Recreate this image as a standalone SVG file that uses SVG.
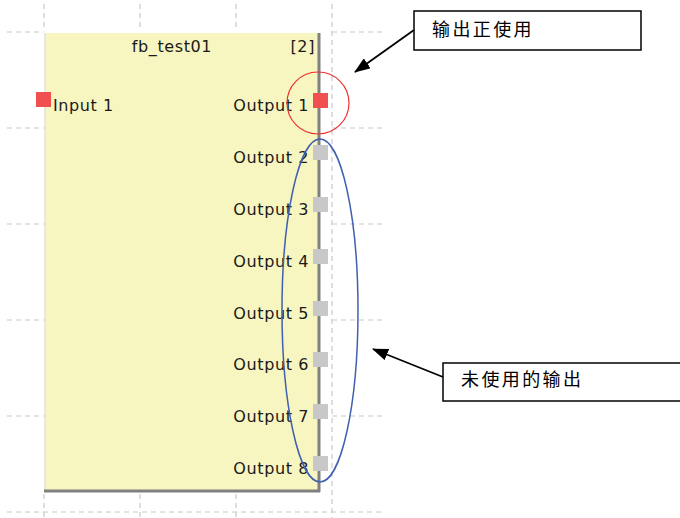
<svg xmlns="http://www.w3.org/2000/svg" width="680" height="518" viewBox="0 0 680 518">
<style>
.grid{stroke:#c8c8c8;stroke-width:1.2;stroke-dasharray:5 4;fill:none}
.lbl{font-family:"DejaVu Sans","Liberation Sans",sans-serif;font-size:16px;letter-spacing:0.6px;fill:#1a1a1a}
.cjk{font-family:"Liberation Sans","Noto Sans CJK SC",sans-serif;font-size:18px;letter-spacing:2.4px;fill:#000}
.pin-on{fill:#f05050}
.pin-off{fill:#c8c8c8}
.callout{fill:#fff;stroke:#000;stroke-width:1.5}
.conn{stroke:#000;stroke-width:1.8;fill:none}
</style>
<defs>
<marker id="ah" viewBox="0 0 16 12" refX="15" refY="6" markerWidth="16" markerHeight="12" markerUnits="userSpaceOnUse" orient="auto">
<path d="M0,0 L16,6 L0,12 z" fill="#000"/>
</marker>
</defs>
<rect width="680" height="518" fill="#fff"/>
<g id="grid">
<path class="grid" d="M44,4V30 M140,4V30 M236,4V30 M332,4V518 M44,494V518 M140,494V518 M236,494V518"/>
<path class="grid" d="M7,32H44 M332,32H382 M7,128H44 M332,128H382 M7,224H44 M332,224H382 M7,320H44 M332,320H382 M7,416H44 M332,416H382 M7,512H382"/>
</g>
<g id="fb_test01">
<rect x="45" y="33" width="274" height="458" fill="#f7f5c0"/>
<line x1="45" y1="33" x2="45" y2="491" stroke="#e0e0e0" stroke-width="1.5"/>
<line x1="319" y1="33" x2="319" y2="492" stroke="#808080" stroke-width="3"/>
<line x1="44" y1="491" x2="320" y2="491" stroke="#808080" stroke-width="3"/>
<text class="lbl" x="172" y="52" text-anchor="middle">fb_test01</text>
<text class="lbl" x="315" y="52" text-anchor="end">[2]</text>
<rect class="pin-on" x="36" y="92" width="15" height="15"/>
<text class="lbl" x="53" y="111">Input 1</text>
<rect class="pin-on" x="313" y="93" width="15" height="15"/>
<text class="lbl" x="309" y="111" text-anchor="end">Output 1</text>
<rect class="pin-off" x="313" y="145" width="15" height="15"/>
<text class="lbl" x="309" y="163" text-anchor="end">Output 2</text>
<rect class="pin-off" x="313" y="197" width="15" height="15"/>
<text class="lbl" x="309" y="215" text-anchor="end">Output 3</text>
<rect class="pin-off" x="313" y="249" width="15" height="15"/>
<text class="lbl" x="309" y="267" text-anchor="end">Output 4</text>
<rect class="pin-off" x="313" y="301" width="15" height="15"/>
<text class="lbl" x="309" y="319" text-anchor="end">Output 5</text>
<rect class="pin-off" x="313" y="352" width="15" height="15"/>
<text class="lbl" x="309" y="370" text-anchor="end">Output 6</text>
<rect class="pin-off" x="313" y="404" width="15" height="15"/>
<text class="lbl" x="309" y="422" text-anchor="end">Output 7</text>
<rect class="pin-off" x="313" y="456" width="15" height="15"/>
<text class="lbl" x="309" y="474" text-anchor="end">Output 8</text>
</g>
<g id="highlight-used">
<circle cx="318" cy="103" r="31" fill="none" stroke="#f03030" stroke-width="1.2"/>
</g>
<g id="highlight-unused">
<ellipse cx="320" cy="310.5" rx="38" ry="171.5" fill="none" stroke="#4060b0" stroke-width="1.5"/>
</g>
<g id="callout-used">
<rect class="callout" x="414" y="11" width="227" height="39"/>
<text class="cjk" x="432" y="36">输出正使用</text>
</g>
<g id="callout-unused">
<rect class="callout" x="443" y="363" width="250" height="38"/>
<text class="cjk" x="461" y="386">未使用的输出</text>
</g>
<g id="connectors">
<line class="conn" x1="414" y1="30" x2="355" y2="72" marker-end="url(#ah)"/>
<line class="conn" x1="443" y1="377" x2="373" y2="349" marker-end="url(#ah)"/>
</g>
</svg>
